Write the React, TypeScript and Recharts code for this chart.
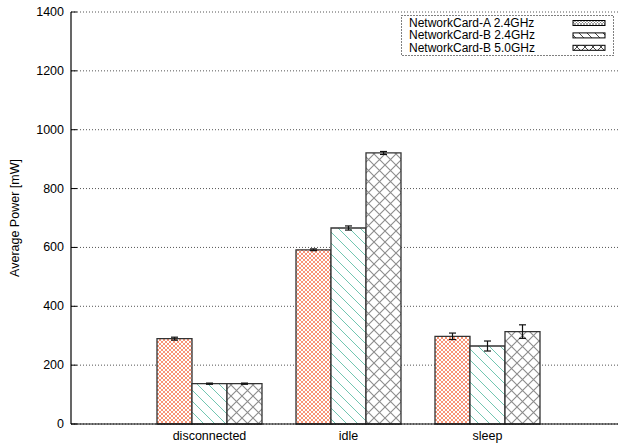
import React from 'react';
import { BarChart, Bar, XAxis, YAxis, CartesianGrid, ErrorBar } from 'recharts';

const categories = ['disconnected', 'idle', 'sleep'];
const seriesNames = ['NetworkCard-A 2.4GHz', 'NetworkCard-B 2.4GHz', 'NetworkCard-B 5.0GHz'];
const cardA24 = [290, 592, 298];
const cardA24Err = [5, 3, 11];
const cardB24 = [137, 666, 265];
const cardB24Err = [2, 7, 17];
const cardB50 = [137, 921, 314];
const cardB50Err = [2, 5, 23];
const yTicks = [0, 200, 400, 600, 800, 1000, 1200, 1400];

const data = categories.map((name, i) => ({
  name,
  a: cardA24[i],
  aErr: cardA24Err[i],
  b: cardB24[i],
  bErr: cardB24Err[i],
  c: cardB50[i],
  cErr: cardB50Err[i],
}));

const FONT = '"Liberation Sans", Arial, Helvetica, sans-serif';
const FS = 12.5;

const YTick = (props: any) => {
  const { x, y, payload } = props;
  return (
    <g>
      <text x={x} y={y} textAnchor="end" dominantBaseline="central" fontSize={FS} fontFamily={FONT} fill="#000">
        {payload.value}
      </text>
      <line x1={x + 7} x2={x + 13} y1={y} y2={y} stroke="#000" strokeWidth={1} />
    </g>
  );
};

const TopTick = (props: any) => {
  const { x, y } = props;
  return <line x1={x} x2={x} y1={y} y2={y + 6} stroke="#000" strokeWidth={1} />;
};

const YLabel = (props: any) => {
  const { x, y, height } = props.viewBox;
  return (
    <text
      transform={`translate(${x + 15},${y + height / 2}) rotate(-90)`}
      textAnchor="middle"
      dominantBaseline="central"
      fontSize={FS}
      fontFamily={FONT}
      fill="#000"
    >
      Average Power [mW]
    </text>
  );
};

const legendPatterns = ['legA', 'legB', 'legC'];

const Legend = () => (
  <svg
    width={214}
    height={42}
    style={{ position: 'absolute', left: 401, top: 15, overflow: 'visible' }}
  >
    <defs>
      <pattern id="legA" width="3" height="3" patternUnits="userSpaceOnUse">
        <rect width="3" height="3" fill="#fff" />
        <path d="M0,0L3,3M3,0L0,3" stroke="#666" strokeWidth="0.6" />
      </pattern>
      <pattern id="legB" width="8" height="8" patternUnits="userSpaceOnUse">
        <rect width="8" height="8" fill="#fff" />
        <path d="M0,0L8,8M-1,7L1,9M7,-1L9,1" stroke="#333" strokeWidth="0.9" />
      </pattern>
      <pattern id="legC" width="8" height="8" patternUnits="userSpaceOnUse">
        <rect width="8" height="8" fill="#fff" />
        <path d="M0,0L8,8M8,0L0,8" stroke="#333" strokeWidth="0.9" />
      </pattern>
    </defs>
    <rect x={0.5} y={0.5} width={212} height={40} fill="#fff" stroke="#000" strokeWidth={1} strokeDasharray="1 2" />
    {seriesNames.map((n, i) => {
      const cy = 8 + i * 12.4;
      return (
        <g key={n}>
          <text x={8} y={cy} dominantBaseline="central" fontSize={12} fontFamily={FONT} fill="#000">
            {n}
          </text>
          <rect x={172} y={cy - 2.5} width={32} height={5} fill={`url(#${legendPatterns[i]})`} stroke="#000" strokeWidth={1} />
        </g>
      );
    })}
  </svg>
);

export default function App() {
  return (
    <div style={{ position: 'absolute', left: 0, top: 0, width: 618, height: 446, overflow: 'hidden', background: '#fff' }}>
      <BarChart
        width={640}
        height={446}
        data={data}
        margin={{ top: 12, right: 13, bottom: 0, left: 0 }}
        barGap={0}
        barSize={35}
      >
        <defs>
          <pattern id="patA" width="4" height="4" patternUnits="userSpaceOnUse">
            <rect width="4" height="4" fill="#fff" />
            <path d="M0,0L4,4M4,0L0,4" stroke="#f7825f" strokeWidth="0.85" />
          </pattern>
          <pattern id="patB" width="11" height="11" patternUnits="userSpaceOnUse">
            <rect width="11" height="11" fill="#fff" />
            <path d="M0,0L11,11M-1,10L1,12M10,-1L12,1" stroke="#72c6b1" strokeWidth="1" />
          </pattern>
          <pattern id="patC" width="11" height="11" patternUnits="userSpaceOnUse">
            <rect width="11" height="11" fill="#fff" />
            <path d="M0,0L11,11M11,0L0,11" stroke="#8c8c8c" strokeWidth="1.1" />
          </pattern>
        </defs>
        <CartesianGrid vertical={false} stroke="#555" strokeDasharray="1 2" />
        <XAxis
          dataKey="name"
          height={22}
          padding={{ left: 69, right: 70 }}
          axisLine={{ stroke: '#000', strokeWidth: 1.2 }}
          tickLine={false}
          tickSize={0}
          tickMargin={7}
          tick={{ fontSize: FS, fontFamily: FONT, fill: '#000' }}
        />
        <XAxis
          xAxisId="top"
          orientation="top"
          dataKey="name"
          height={0}
          padding={{ left: 69, right: 70 }}
          axisLine={{ stroke: '#000', strokeWidth: 1.2 }}
          tickLine={false}
          tickSize={0}
          tickMargin={0}
          tick={<TopTick />}
        />
        <YAxis
          width={71}
          domain={[0, 1400]}
          ticks={yTicks}
          interval={0}
          axisLine={{ stroke: '#000', strokeWidth: 1.2 }}
          tickLine={false}
          tickSize={0}
          tickMargin={7}
          tick={<YTick />}
          label={<YLabel />}
        />
        <Bar dataKey="a" fill="url(#patA)" stroke="#333" strokeWidth={1.3} isAnimationActive={false}>
          <ErrorBar dataKey="aErr" width={3.5} stroke="#111" strokeWidth={1.2} />
        </Bar>
        <Bar dataKey="b" fill="url(#patB)" stroke="#333" strokeWidth={1.3} isAnimationActive={false}>
          <ErrorBar dataKey="bErr" width={3.5} stroke="#111" strokeWidth={1.2} />
        </Bar>
        <Bar dataKey="c" fill="url(#patC)" stroke="#333" strokeWidth={1.3} isAnimationActive={false}>
          <ErrorBar dataKey="cErr" width={3.5} stroke="#111" strokeWidth={1.2} />
        </Bar>
      </BarChart>
      <Legend />
    </div>
  );
}
